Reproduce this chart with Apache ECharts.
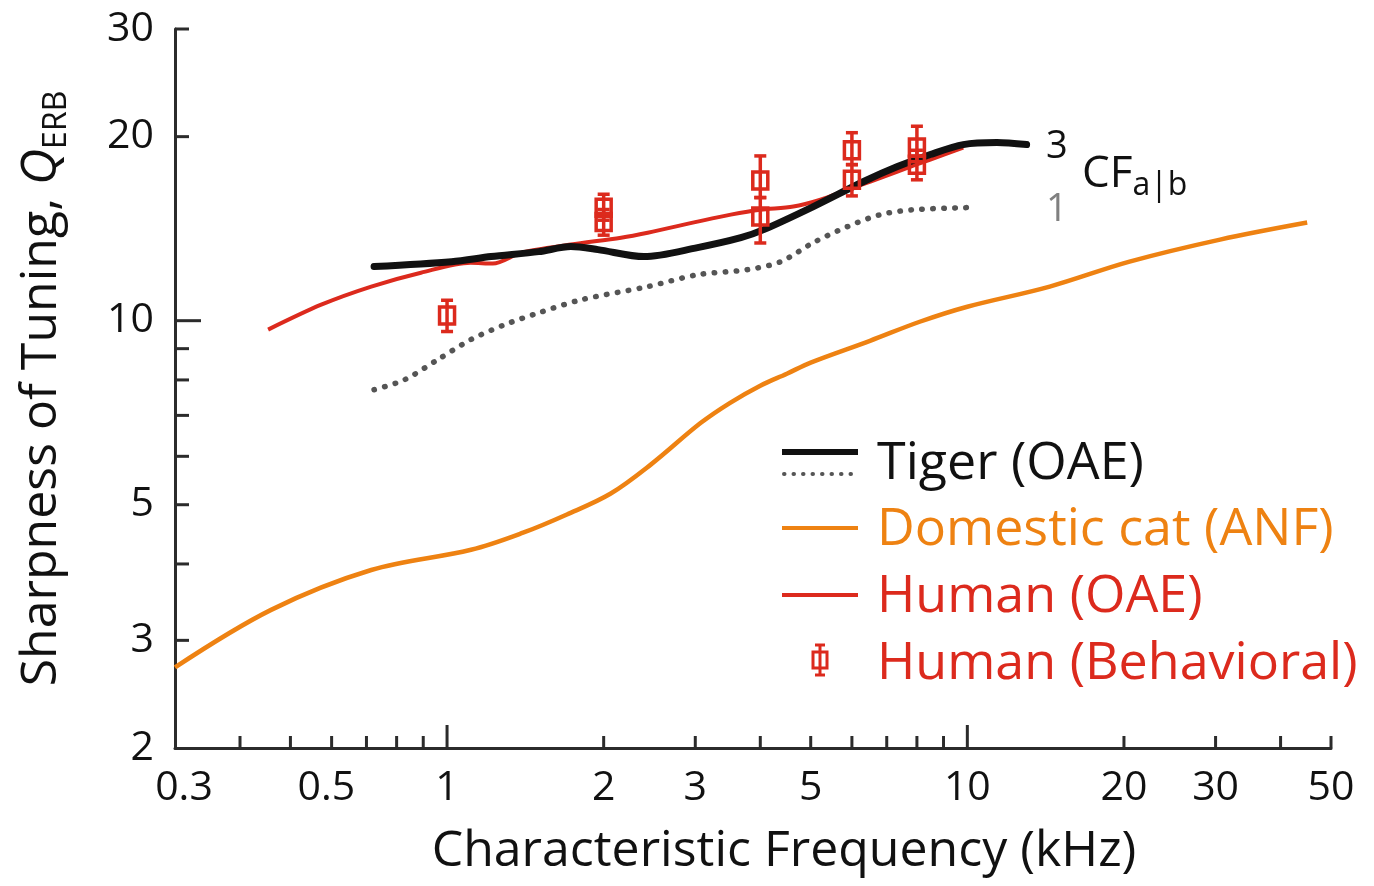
<!DOCTYPE html>
<html><head><meta charset="utf-8">
<script src="https://cdn.jsdelivr.net/npm/echarts@6/dist/echarts.min.js"></script>
<style>html,body{margin:0;padding:0;background:#fff}#c{width:1374px;height:886px}</style>
</head><body><div id="c"></div>
<script>
// ---------- data ----------
const catFreq   = [0.3, 0.459, 0.715, 1.112, 1.40, 1.70, 2.06, 2.46, 3.07, 3.5, 4.0, 4.5, 5.0, 6.5, 8.1, 10, 14.4, 20.5, 30.6, 45];
const catQ      = [2.71, 3.365, 3.91, 4.22, 4.50, 4.82, 5.21, 5.81, 6.80, 7.34, 7.83, 8.19, 8.54, 9.27, 9.96, 10.54, 11.37, 12.49, 13.57, 14.47];

const tiger3Freq = [0.724, 1.02, 1.215, 1.50, 1.73, 1.95, 2.39, 3.03, 3.67, 4.06, 5.06, 6.32, 7.34, 8.49, 9.82, 11.4, 13.0];
const tiger3Q    = [12.26, 12.49, 12.73, 12.97, 13.22, 13.07, 12.73, 13.17, 13.67, 14.09, 15.37, 16.89, 17.87, 18.70, 19.41, 19.56, 19.41];

const tiger1Freq = [0.724, 0.827, 0.961, 1.11, 1.29, 1.50, 1.81, 2.43, 3.03, 3.78, 4.38, 5.06, 5.88, 6.81, 7.88, 10.0];
const tiger1Q    = [7.71, 8.00, 8.64, 9.31, 9.85, 10.30, 10.82, 11.37, 11.89, 12.12, 12.49, 13.42, 14.25, 14.91, 15.19, 15.31];

const humanFreq = [0.453, 0.573, 0.715, 0.891, 1.11, 1.225, 1.39, 1.73, 2.16, 2.43, 3.03, 3.51, 4.0, 4.63, 5.22, 5.88, 6.51, 7.34, 8.49, 9.82];
const humanQ    = [9.67, 10.62, 11.37, 11.98, 12.44, 12.40, 12.92, 13.32, 13.67, 13.93, 14.52, 14.91, 15.19, 15.37, 15.78, 16.38, 16.89, 17.54, 18.35, 19.19];

const behavFreq = [1, 2, 2, 4, 4, 6, 6, 8, 8];
const behavQ    = [10.2, 15.3, 14.5, 16.95, 14.8, 19.0, 17.0, 19.2, 18.0];
const behavLo   = [9.6, 14.6, 13.8, 15.9, 13.4, 18.0, 16.0, 18.2, 17.0];
const behavHi   = [10.8, 16.1, 15.2, 18.6, 15.9, 20.3, 18.0, 20.8, 19.0];

const xTickValues = [0.3, 0.5, 1, 2, 3, 5, 10, 20, 30, 50];
const xTickLabels = ['0.3', '0.5', '1', '2', '3', '5', '10', '20', '30', '50'];
const xTickMarks  = [0.4, 0.5, 0.6, 0.7, 0.8, 0.9, 1, 2, 3, 4, 5, 6, 7, 8, 9, 10, 20, 30, 40, 50];
const xMajorMarks = [1, 10];

const yTickValues = [2, 3, 5, 10, 20, 30];
const yTickLabels = ['2', '3', '5', '10', '20', '30'];
const yTickMarks  = [3, 4, 5, 6, 7, 8, 9, 10, 20, 30];
const yMajorMarks = [10];

const X_MIN = 0.3, X_MAX = 50, Y_MIN = 2, Y_MAX = 30;

// ---------- styles ----------
const FONT = '"Open Sans", "Noto Sans", sans-serif';
const AXIS = '#2b2b2b';
const BLACK = '#111111';
const GRAY = '#555555';
const ORANGE = '#ee8212';
const RED = '#dc2a1d';
const xLabelNudge = {'0.3': 9, '0.5': 36};   // label placement tweaks (pixels)

const zip = (a, b) => a.map((v, i) => [v, b[i]]);

const chart = echarts.init(document.getElementById('c'), null, {renderer: 'canvas'});

function xTickRender(params, api) {
  const v = api.value(0);
  const p = api.coord([v, Y_MIN]);
  const len = xMajorMarks.includes(v) ? 23 : 12;
  return {type: 'line', shape: {x1: p[0], y1: p[1], x2: p[0], y2: p[1] - len},
          style: {stroke: AXIS, lineWidth: 3}};
}
function yTickRender(params, api) {
  const v = api.value(1);
  const p = api.coord([X_MIN, v]);
  const len = yMajorMarks.includes(v) ? 26 : 14;
  return {type: 'line', shape: {x1: p[0], y1: p[1], x2: p[0] + len, y2: p[1]},
          style: {stroke: AXIS, lineWidth: 3}};
}
function xLabelRender(params, api) {
  const p = api.coord([api.value(0), Y_MIN]);
  const txt = xTickLabels[params.dataIndex];
  return {type: 'text', x: p[0] + (xLabelNudge[txt] || 0), y: p[1] + 20,
          style: {text: txt, font: '400 41px ' + FONT, fill: '#111',
                  align: 'center', verticalAlign: 'top'}};
}
function yLabelRender(params, api) {
  const p = api.coord([X_MIN, api.value(1)]);
  return {type: 'text', x: p[0] - 21, y: p[1],
          style: {text: yTickLabels[params.dataIndex], font: '400 41px ' + FONT, fill: '#111',
                  align: 'right', verticalAlign: 'middle'}};
}
function behavRender(params, api) {
  const x = api.value(0);
  const c = api.coord([x, api.value(1)]);
  const lo = api.coord([x, api.value(2)]);
  const hi = api.coord([x, api.value(3)]);
  const st = {stroke: RED, lineWidth: 3.5, fill: null};
  return {type: 'group', children: [
    {type: 'line', shape: {x1: c[0], y1: hi[1], x2: c[0], y2: lo[1]}, style: st},
    {type: 'line', shape: {x1: c[0] - 6, y1: hi[1], x2: c[0] + 6, y2: hi[1]}, style: st},
    {type: 'line', shape: {x1: c[0] - 6, y1: lo[1], x2: c[0] + 6, y2: lo[1]}, style: st},
    {type: 'rect', shape: {x: c[0] - 7.5, y: c[1] - 8.5, width: 15, height: 17}, style: {stroke: RED, lineWidth: 3.5, fill: 'rgba(0,0,0,0)'}}
  ]};
}

const LEG_FONT = '400 52px ' + FONT;

const option = {
  animation: false,
  backgroundColor: '#fff',
  grid: {left: 175, right: 43, top: 29, bottom: 138, containLabel: false},
  xAxis: {
    type: 'log', logBase: 10, min: X_MIN, max: X_MAX,
    axisLine: {show: true, onZero: false, lineStyle: {color: AXIS, width: 3}},
    axisTick: {show: false}, axisLabel: {show: false}, splitLine: {show: false}, minorTick: {show: false},
    name: 'Characteristic Frequency (kHz)', nameLocation: 'middle', nameGap: 79,
    nameTextStyle: {fontFamily: FONT, fontSize: 50, color: '#111', padding: [0, 0, 0, 62]}
  },
  yAxis: {
    type: 'log', logBase: 10, min: Y_MIN, max: Y_MAX,
    axisLine: {show: true, onZero: false, lineStyle: {color: AXIS, width: 3}},
    axisTick: {show: false}, axisLabel: {show: false}, splitLine: {show: false}, minorTick: {show: false},
    name: '{t|Sharpness of Tuning, }{q|Q}{s|ERB}', nameLocation: 'middle', nameGap: 102,
    nameTextStyle: {
      color: '#111',
      rich: {
        t: {fontFamily: FONT, fontSize: 50, color: '#111', lineHeight: 62},
        q: {fontFamily: FONT, fontSize: 50, fontStyle: 'italic', color: '#111', lineHeight: 62},
        s: {fontFamily: FONT, fontSize: 32, color: '#111', lineHeight: 34, verticalAlign: 'bottom'}
      }
    }
  },
  series: [
    {name: 'Domestic cat (ANF)', type: 'line', data: zip(catFreq, catQ), smooth: 0.35, showSymbol: false,
     lineStyle: {color: ORANGE, width: 4.5}, z: 2},
    {name: 'Tiger CF1', type: 'line', data: zip(tiger1Freq, tiger1Q), smooth: 0.3, showSymbol: false,
     lineStyle: {color: GRAY, width: 5.5, type: [0.5, 10.5], cap: 'round'}, z: 3},
    {name: 'Human (OAE)', type: 'line', data: zip(humanFreq, humanQ), smooth: 0.3, showSymbol: false,
     lineStyle: {color: RED, width: 4}, z: 4},
    {name: 'Tiger (OAE)', type: 'line', data: zip(tiger3Freq, tiger3Q), smooth: 0.3, showSymbol: false,
     lineStyle: {color: BLACK, width: 7, cap: 'round'}, z: 5},
    {name: 'Human (Behavioral)', type: 'custom', renderItem: behavRender, clip: false, z: 6,
     data: behavFreq.map((f, i) => [f, behavQ[i], behavLo[i], behavHi[i]]),
     encode: {x: 0, y: 1}},
    {type: 'custom', renderItem: xTickRender, clip: false, z: 7, silent: true,
     data: xTickMarks.map(v => [v, Y_MIN]), encode: {x: 0, y: 1}},
    {type: 'custom', renderItem: yTickRender, clip: false, z: 7, silent: true,
     data: yTickMarks.map(v => [X_MIN, v]), encode: {x: 0, y: 1}},
    {type: 'custom', renderItem: xLabelRender, clip: false, z: 7, silent: true,
     data: xTickValues.map(v => [v, Y_MIN]), encode: {x: 0, y: 1}},
    {type: 'custom', renderItem: yLabelRender, clip: false, z: 7, silent: true,
     data: yTickValues.map(v => [X_MIN, v]), encode: {x: 0, y: 1}}
  ],
  graphic: [
    // curve annotations
    {type: 'text', left: 1046, top: 128, style: {text: '3', font: '400 38px ' + FONT, fill: BLACK}},
    {type: 'text', left: 1046, top: 191, style: {text: '1', font: '400 38px ' + FONT, fill: '#808080'}},
    {type: 'text', left: 1082, top: 152, style: {
      text: '{c|CF}{s|a|b}',
      rich: {c: {font: '400 44px ' + FONT, fill: BLACK, lineHeight: 56},
             s: {font: '400 32px ' + FONT, fill: BLACK, lineHeight: 36, verticalAlign: 'bottom'}}}},
    // legend
    {type: 'line', shape: {x1: 782, y1: 452, x2: 858, y2: 452}, style: {stroke: BLACK, lineWidth: 6}},
    {type: 'line', shape: {x1: 784, y1: 474, x2: 858, y2: 474}, style: {stroke: GRAY, lineWidth: 4, lineDash: [0.5, 9], lineCap: 'round'}},
    {type: 'text', x: 877, y: 464, style: {text: 'Tiger (OAE)', font: LEG_FONT, fill: BLACK, verticalAlign: 'middle'}},
    {type: 'line', shape: {x1: 782, y1: 528, x2: 858, y2: 528}, style: {stroke: ORANGE, lineWidth: 4}},
    {type: 'text', x: 877, y: 530, style: {text: 'Domestic cat (ANF)', font: LEG_FONT, fill: ORANGE, verticalAlign: 'middle'}},
    {type: 'line', shape: {x1: 782, y1: 595, x2: 858, y2: 595}, style: {stroke: RED, lineWidth: 4}},
    {type: 'text', x: 877, y: 597, style: {text: 'Human (OAE)', font: LEG_FONT, fill: RED, verticalAlign: 'middle'}},
    {type: 'group', x: 820, y: 660, children: [
      {type: 'line', shape: {x1: 0, y1: -15, x2: 0, y2: 15}, style: {stroke: RED, lineWidth: 3}},
      {type: 'line', shape: {x1: -5, y1: -15, x2: 5, y2: -15}, style: {stroke: RED, lineWidth: 3}},
      {type: 'line', shape: {x1: -5, y1: 15, x2: 5, y2: 15}, style: {stroke: RED, lineWidth: 3}},
      {type: 'rect', shape: {x: -7, y: -8, width: 14, height: 16}, style: {stroke: RED, lineWidth: 3, fill: 'rgba(0,0,0,0)'}}
    ]},
    {type: 'text', x: 877, y: 664, style: {text: 'Human (Behavioral)', font: LEG_FONT, fill: RED, verticalAlign: 'middle'}}
  ]
};
chart.setOption(option);
</script></body></html>
